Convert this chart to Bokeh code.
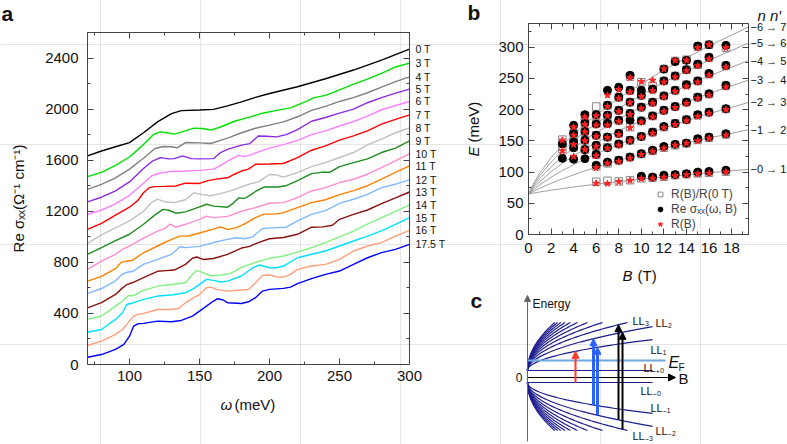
import math
import numpy as np
from bokeh.plotting import figure
from bokeh.models import (Range1d, FixedTicker, LinearAxis, Label, LabelSet,
                          ColumnDataSource, Legend, LegendItem, Arrow, NormalHead)
from bokeh.embed import file_html
from bokeh.resources import INLINE
from bokeh.core.properties import value

FONT = "Liberation Sans"
W, H = 787, 444

# ---------------- panel a data ----------------
labels_a = ["0 T", "3 T", "4 T", "5 T", "6 T", "7 T", "8 T", "9 T", "10 T", "11 T",
            "12 T", "13 T", "14 T", "15 T", "16 T", "17.5 T"]
colors_a = ["#000000", "#00e000", "#808080", "#8a2be2", "#ff80ff", "#ff0000", "#c0c0c0",
            "#1e8c1e", "#ff8cd0", "#ff8000", "#80b8ff", "#8b1010", "#80f080", "#00e0ff",
            "#ffa07a", "#0000ff"]

w_0T = [70, 80, 90, 100, 110, 120, 130, 137, 150, 160, 170, 180, 190, 200, 220, 240, 260, 280, 300]
s_0T = [1634, 1672, 1705, 1738, 1815, 1900, 1965, 1988, 1993, 1998, 2025, 2057, 2092, 2122, 2175, 2238, 2306, 2384, 2470]
w_3T = [70, 80, 90, 100, 110, 117, 122, 127, 132, 140, 146, 152, 158, 165, 175, 185, 195, 205, 215, 225, 232, 240, 250, 260, 270, 280, 290, 300]
s_3T = [1471, 1505, 1560, 1625, 1722, 1800, 1822, 1815, 1804, 1830, 1851, 1848, 1836, 1860, 1905, 1935, 1968, 1990, 2010, 2055, 2090, 2108, 2150, 2195, 2235, 2280, 2330, 2360]
w_4T = [70, 80, 90, 100, 110, 118, 124, 130, 134, 140, 150, 158, 165, 172, 180, 190, 200, 210, 220, 230, 240, 250, 260, 270, 280, 290, 300]
s_4T = [1372, 1410, 1462, 1530, 1615, 1690, 1707, 1705, 1697, 1738, 1736, 1731, 1755, 1780, 1815, 1850, 1875, 1900, 1940, 1990, 2022, 2060, 2090, 2128, 2172, 2215, 2253]
w_5T = [70, 80, 90, 100, 110, 116, 122, 128, 132, 138, 144, 150, 160, 165, 170, 180, 186, 192, 198, 205, 212, 220, 230, 240, 250, 260, 270, 280, 290, 300]
s_5T = [1273, 1310, 1360, 1430, 1535, 1590, 1620, 1610, 1612, 1634, 1612, 1610, 1612, 1660, 1685, 1718, 1730, 1790, 1788, 1783, 1800, 1840, 1905, 1934, 1968, 2000, 2050, 2090, 2125, 2157]
w_6T = [70, 80, 90, 100, 110, 116, 122, 130, 140, 150, 160, 165, 172, 178, 182, 186, 192, 200, 210, 220, 230, 240, 250, 260, 270, 280, 290, 300]
s_6T = [1175, 1210, 1258, 1325, 1420, 1478, 1500, 1512, 1515, 1520, 1530, 1560, 1605, 1638, 1628, 1640, 1665, 1695, 1722, 1755, 1800, 1830, 1868, 1903, 1945, 1995, 2028, 2060]
w_7T = [70, 80, 90, 100, 106, 110, 114, 118, 125, 133, 140, 150, 156, 162, 170, 175, 180, 185, 190, 200, 210, 220, 230, 240, 250, 260, 270, 280, 290, 300]
s_7T = [1059, 1105, 1170, 1232, 1285, 1345, 1385, 1393, 1395, 1398, 1420, 1418, 1440, 1452, 1462, 1490, 1515, 1530, 1568, 1570, 1574, 1620, 1678, 1712, 1757, 1790, 1830, 1882, 1920, 1955]
w_8T = [70, 80, 90, 100, 110, 116, 120, 125, 132, 140, 146, 152, 158, 165, 172, 180, 186, 192, 200, 205, 210, 220, 230, 240, 250, 260, 270, 280, 290, 300]
s_8T = [949, 1015, 1070, 1125, 1200, 1270, 1295, 1275, 1268, 1290, 1345, 1330, 1322, 1338, 1360, 1390, 1415, 1430, 1488, 1485, 1468, 1503, 1550, 1581, 1621, 1660, 1720, 1765, 1815, 1853]
w_9T = [70, 80, 90, 100, 110, 118, 124, 128, 133, 140, 150, 155, 160, 170, 174, 178, 182, 186, 190, 196, 206, 212, 220, 230, 237, 243, 250, 260, 270, 280, 290, 300]
s_9T = [862, 915, 970, 1020, 1098, 1170, 1215, 1208, 1185, 1195, 1235, 1255, 1240, 1232, 1262, 1305, 1300, 1325, 1355, 1390, 1390, 1400, 1440, 1495, 1505, 1505, 1550, 1581, 1610, 1660, 1695, 1751]
w_10T = [70, 80, 90, 95, 100, 110, 120, 125, 129, 133, 140, 150, 155, 160, 170, 180, 190, 200, 210, 220, 230, 240, 250, 260, 270, 280, 290, 300]
s_10T = [745, 810, 863, 902, 928, 990, 1045, 1062, 1100, 1075, 1098, 1137, 1162, 1150, 1160, 1200, 1229, 1263, 1268, 1307, 1359, 1385, 1425, 1451, 1490, 1542, 1595, 1652]
w_11T = [70, 80, 90, 94, 98, 102, 110, 120, 130, 136, 142, 150, 160, 165, 170, 176, 182, 190, 196, 204, 210, 220, 230, 240, 250, 260, 270, 280, 290, 300]
s_11T = [653, 690, 750, 800, 810, 815, 875, 928, 980, 1005, 1006, 1030, 1060, 1078, 1058, 1070, 1100, 1150, 1178, 1178, 1189, 1229, 1268, 1290, 1330, 1362, 1400, 1452, 1505, 1555]
w_12T = [70, 80, 90, 95, 98, 102, 110, 120, 130, 136, 140, 150, 160, 170, 176, 182, 188, 195, 205, 212, 220, 230, 240, 250, 260, 270, 280, 290, 300]
s_12T = [557, 595, 655, 708, 722, 728, 784, 823, 863, 922, 915, 925, 955, 980, 993, 985, 1000, 1065, 1072, 1075, 1124, 1176, 1205, 1262, 1294, 1333, 1385, 1412, 1446]
w_13T = [70, 80, 90, 95, 98, 102, 110, 120, 126, 132, 140, 145, 148, 153, 160, 170, 180, 186, 192, 200, 210, 220, 230, 238, 245, 250, 260, 270, 280, 290, 300]
s_13T = [444, 484, 549, 600, 625, 640, 680, 730, 735, 740, 784, 832, 842, 822, 830, 862, 912, 925, 955, 985, 995, 1020, 1075, 1078, 1090, 1137, 1176, 1210, 1260, 1305, 1351]
w_14T = [70, 80, 90, 95, 99, 103, 110, 120, 130, 140, 145, 148, 152, 158, 165, 172, 180, 190, 200, 210, 220, 230, 240, 250, 260, 270, 280, 290, 300]
s_14T = [353, 380, 457, 497, 538, 540, 580, 614, 627, 640, 706, 737, 722, 695, 700, 712, 760, 800, 831, 850, 880, 915, 955, 1000, 1045, 1100, 1150, 1200, 1250]
w_15T = [70, 80, 90, 95, 98, 103, 110, 120, 130, 140, 145, 150, 155, 160, 165, 170, 180, 188, 193, 200, 205, 210, 220, 230, 240, 250, 260, 270, 280, 290, 300]
s_15T = [253, 274, 353, 405, 470, 484, 510, 536, 544, 562, 588, 627, 667, 659, 646, 653, 693, 758, 779, 758, 758, 771, 836, 863, 889, 928, 967, 1006, 1046, 1098, 1150]
w_16T = [70, 80, 90, 95, 100, 103, 106, 110, 120, 130, 135, 140, 150, 155, 158, 162, 170, 180, 185, 190, 195, 200, 205, 210, 215, 220, 230, 240, 250, 260, 270, 280, 290, 300]
s_16T = [149, 183, 235, 274, 340, 379, 392, 400, 431, 431, 439, 484, 549, 601, 606, 588, 575, 583, 588, 640, 698, 701, 687, 685, 706, 745, 771, 784, 823, 889, 928, 954, 1006, 1051]
w_17T = [70, 80, 90, 96, 100, 103, 106, 110, 120, 130, 137, 145, 150, 155, 160, 163, 167, 170, 180, 185, 190, 195, 200, 210, 215, 220, 230, 240, 250, 260, 270, 280, 290, 300]
s_17T = [57, 78, 118, 157, 222, 301, 319, 322, 340, 335, 345, 379, 418, 457, 497, 515, 505, 484, 478, 491, 523, 575, 588, 596, 606, 633, 672, 706, 732, 784, 836, 876, 902, 941]

curves_a = [(w_0T, s_0T), (w_3T, s_3T), (w_4T, s_4T), (w_5T, s_5T), (w_6T, s_6T),
            (w_7T, s_7T), (w_8T, s_8T), (w_9T, s_9T), (w_10T, s_10T), (w_11T, s_11T),
            (w_12T, s_12T), (w_13T, s_13T), (w_14T, s_14T), (w_15T, s_15T),
            (w_16T, s_16T), (w_17T, s_17T)]

xticks_a = [100, 150, 200, 250, 300]
xminor_a = [75, 100, 125, 150, 175, 200, 225, 250, 275, 300]
yticks_a = [0, 400, 800, 1200, 1600, 2000, 2400]
yminor_a = [200, 400, 600, 800, 1000, 1200, 1400, 1600, 1800, 2000, 2200, 2400, 2600]

# ---------------- panel b data ----------------
line_B = [0, 0.5, 1, 2, 3, 5, 8, 12, 16, 19.5]
T01_E = [65, 66.6, 68.1, 70.9, 73.6, 78.4, 84.8, 92.3, 98.9, 104.2]
T12_E = [65, 69.7, 74.0, 81.9, 89.2, 102.0, 118.7, 137.8, 154.6, 167.8]
T23_E = [65, 72.6, 79.5, 91.6, 102.4, 121.0, 144.5, 170.8, 193.6, 211.5]
T34_E = [65, 75.4, 84.6, 100.4, 114.0, 137.3, 166.2, 198.2, 225.8, 247.4]
T45_E = [65, 78.2, 89.4, 108.4, 124.6, 151.8, 185.3, 222.2, 253.9, 278.6]
T56_E = [65, 80.8, 94.0, 115.9, 134.3, 165.1, 202.6, 243.9, 279.1, 306.6]
T67_E = [65, 83.4, 98.4, 123.0, 143.4, 177.3, 218.6, 263.7, 302.2, 332.3]
trans_lines = [T01_E, T12_E, T23_E, T34_E, T45_E, T56_E, T67_E]
trans_labels = ["\u22120 \u2192 1", "\u22121 \u2192 2", "\u22122 \u2192 3", "\u22123 \u2192 4",
                "\u22124 \u2192 5", "\u22125 \u2192 6", "\u22126 \u2192 7"]

fields_b = [3, 4, 5, 6, 7, 8, 9, 10, 11, 12, 13, 14, 15, 16, 17.5]
black_E = [
    [122, 145],
    [120.5, 139, 148.5, 162, 175],
    [121.5, 136, 151, 165, 179, 192],
    [111, 128.5, 143, 159, 177, 192],
    [116, 139, 156, 178, 191, 207, 231],
    [119, 145, 162, 183, 199, 220, 236],
    [124, 151, 183, 194, 212, 231, 255],
    [93.5, 129.5, 157, 182, 204, 223, 231],
    [92, 135, 164, 190, 212, 233],
    [95, 141, 173, 199, 222, 246, 265],
    [96, 144.5, 178, 205, 231, 254, 277],
    [97.5, 146.5, 184, 212, 240, 264, 279],
    [100, 153.5, 192, 220, 246, 273, 302],
    [101, 156, 196, 225.5, 258, 284, 304],
    [103, 161.5, 201.5, 239, 271, 303],
]
red_E = [
    [134, 151],
    [125, 144, 159, 172],
    [136, 150, 164, 176, 188],
    [82, 107, 126, 141, 157, 175, 190],
    [81.5, 114, 138, 155, 175, 190, 205, 223],
    [84.5, 117, 143, 160, 181, 197, 218, 232],
    [86.5, 122, 150, 171, 192, 211, 228, 251],
    [89.5, 128, 156, 180, 202, 221, 245],
    [90, 133, 162, 188, 210, 230, 247],
    [91.5, 138, 171, 197, 220, 244, 265],
    [94, 143, 176, 203, 229, 252, 279],
    [95.5, 146, 182, 210, 237, 262, 279],
    [97, 150, 189, 218, 244, 270, 299],
    [98, 154, 194, 223, 255, 281, 304],
    [100, 159, 200, 236, 268, 299],
]
open_E = [
    [137, 152],
    [140, 149, 162],
    [136, 151, 165, 179, 190],
    [84.5, 109, 128, 142, 159, 178, 192, 205],
    [86, 114, 140, 156, 178, 191, 207],
    [85, 119, 145, 162, 183, 199, 220],
    [87, 124, 151, 172, 194, 212, 231, 253],
    [90, 129, 157, 182, 204, 223, 244],
    [91, 134, 164, 190, 212, 233, 238],
    [92.5, 139, 172, 199, 222, 246, 265],
    [95, 143, 178, 205, 231, 254, 278],
    [96.5, 146, 184, 212, 240, 264, 280],
    [98, 152, 191, 220, 246, 272, 301],
    [99, 155, 196, 225, 257, 283, 304],
    [100.5, 160, 201, 238, 270, 299],
]
xticks_b = [0, 2, 4, 6, 8, 10, 12, 14, 16, 18]
xminor_b = list(range(0, 20))
yticks_b = [0, 50, 100, 150, 200, 250, 300]
yminor_b = [0, 25, 50, 75, 100, 125, 150, 175, 200, 225, 250, 275, 300, 325]

# ---------------- panel c data (schematic) ----------------
c_levels = [1, 2, 3, 4, 5, 6, 7, 8, 9, 10, 11]
c_Bmax = 125
c_scale = 2.77
c_gap_up = 7
c_gap_dn = 5
c_Emax_up = 55
c_Emax_dn = 53
c_EF = 17
c_EF_end = 138
c_Baxis_end = 148
tr_B = [48, 66, 70, 91, 95]
tr_from = [0, 1, 2, 2, 3]
tr_to = [1, 2, 1, 3, 2]
tr_color = ["#ff3b30", "#2a62ff", "#2a62ff", "#000000", "#000000"]
tr_width = [2, 3, 3, 2, 2]
ll_text = ["LL\u2083", "LL\u2082", "LL\u2081", "LL\u208a\u2080", "LL\u208b\u2080",
           "LL\u208b\u2081", "LL\u208b\u2082", "LL\u208b\u2083"]
ll_x = [105, 128, 123, 116, 113, 123, 128, 105]
ll_y = [57, 55, 28, 10, -13, -30, -53, -58]

# ---------------- layout boxes (page pixels) ----------------
def xr(d0, d1, p0, p1):
    s = (p1 - p0) / (d1 - d0)
    return Range1d(d0 - p0 / s, d1 + (W - p1) / s)

def yr(d0, d1, p_bottom, p_top):
    s = (p_bottom - p_top) / (d1 - d0)
    return Range1d(d0 - (H - p_bottom) / s, d1 + p_top / s)

p = figure(width=W, height=H, x_range=Range1d(0, W), y_range=Range1d(0, H),
           output_backend="svg", toolbar_location=None, min_border=0,
           x_axis_location=None, y_axis_location=None)
p.outline_line_color = None
p.title.visible = False
p.extra_x_ranges = {"ax": xr(70, 300, 87, 409), "bx": xr(0, 19.5, 528, 748),
                    "cx": xr(0, 148, 527, 675)}
p.extra_y_ranges = {"ay": yr(0, 2600, 364, 32), "by": yr(0, 338, 234, 23),
                    "cy": yr(0, 100, 377, 277)}

AX = "#444444"

def add_axis(side, xname, yname, loc, bounds, ticks, minor, labels=True,
             standoff=6, fs="15px"):
    a = LinearAxis(x_range_name=xname, y_range_name=yname, fixed_location=loc,
                   bounds=bounds, ticker=FixedTicker(ticks=ticks, minor_ticks=minor))
    a.major_tick_in = 6
    a.major_tick_out = 0
    a.minor_tick_in = 3
    a.minor_tick_out = 0
    a.axis_line_color = AX
    a.major_tick_line_color = AX
    a.minor_tick_line_color = AX
    a.major_label_text_font = FONT
    a.major_label_text_font_size = fs
    a.major_label_text_color = "#111111"
    a.major_label_standoff = standoff
    if not labels:
        a.major_label_overrides = {t: "" for t in ticks}
    p.add_layout(a, side)
    return a

def txt(x, y, t, size="15px", style="normal", align="left", base="middle", angle=0.0,
        xn="default", yn="default", color="#111111"):
    p.add_layout(Label(x=x, y=y, text=t, text_font=FONT, text_font_size=size,
                       text_font_style=style, text_align=align, text_baseline=base,
                       angle=angle, x_range_name=xn, y_range_name=yn, text_color=color))

# ================= panel a =================
add_axis("below", "ax", "ay", 0, (70, 300), xticks_a, xminor_a, standoff=6)
add_axis("above", "ax", "ay", 2600, (70, 300), xticks_a, xminor_a, labels=False)
add_axis("left", "ax", "ay", 70, (0, 2600), yticks_a, yminor_a, standoff=9)
add_axis("right", "ax", "ay", 300, (0, 2600), yticks_a, yminor_a, labels=False)

for (w, s), col in zip(curves_a, colors_a):
    p.line(w, s, line_color=col, line_width=1.4, x_range_name="ax", y_range_name="ay")

lab_src = ColumnDataSource(dict(x=[w[-1] for w, s in curves_a],
                                y=[s[-1] for w, s in curves_a], t=labels_a))
p.add_layout(LabelSet(x="x", y="y", text="t", source=lab_src, x_offset=6,
                      x_range_name="ax", y_range_name="ay",
                      text_baseline="middle", text_align="left",
                      text_font=value(FONT), text_font_size="10.5px", text_color="#111111"))

txt(220, H - 404, "\u03c9", style="italic")
txt(234, H - 404, "(meV)")
txt(18, H - 198, "Re \u03c3\u2093\u2093(\u03a9\u207b\u00b9 cm\u207b\u00b9)", align="center",
    angle=math.pi / 2)
txt(1, H - 13, "a", size="21px", style="bold")

# ================= panel b =================
add_axis("below", "bx", "by", 0, (0, 19.5), xticks_b, xminor_b, standoff=8)
add_axis("above", "bx", "by", 338, (0, 19.5), xticks_b, xminor_b, labels=False)
add_axis("left", "bx", "by", 0, (0, 338), yticks_b, yminor_b, standoff=5)
add_axis("right", "bx", "by", 19.5, (0, 338), yticks_b, yminor_b, labels=False)

for Ev in trans_lines:
    p.line(line_B, Ev, line_color="#a0a0a0", line_width=1, x_range_name="bx", y_range_name="by")

def flat(fields, lists):
    xs, ys = [], []
    for b, es in zip(fields, lists):
        for e in es:
            xs.append(b)
            ys.append(e)
    return xs, ys

ob, oe = flat(fields_b, open_E)
bb, be = flat(fields_b, black_E)
rbx, rbe = flat(fields_b, red_E)
r_open = p.scatter(ob, oe, marker="square", size=7.5, line_color="#8a8a8a", fill_color=None,
                   line_width=1, x_range_name="bx", y_range_name="by")
r_black = p.scatter(bb, be, marker="circle", size=8, line_color="black", fill_color="black",
                    x_range_name="bx", y_range_name="by")
r_red = p.scatter(rbx, rbe, marker="star", size=7, line_color="#ff2020", fill_color="#ff2020",
                  x_range_name="bx", y_range_name="by")

tl_src = ColumnDataSource(dict(x=[line_B[-1]] * len(trans_lines),
                               y=[Ev[-1] for Ev in trans_lines], t=trans_labels))
p.add_layout(LabelSet(x="x", y="y", text="t", source=tl_src, x_offset=2,
                      x_range_name="bx", y_range_name="by",
                      text_baseline="middle", text_align="left",
                      text_font=value(FONT), text_font_size="11px", text_color="#111111"))

txt(757, H - 15, "n  n\u2032", style="italic")
txt(467, H - 12, "b", size="21px", style="bold")
txt(473, H - 156, "E", style="italic", angle=math.pi / 2)
txt(473, H - 142, "(meV)", angle=math.pi / 2)
txt(622, H - 275, "B", style="italic")
txt(637, H - 275, "(T)")

leg = Legend(items=[LegendItem(label="R(B)/R(0 T)", renderers=[r_open]),
                    LegendItem(label="Re \u03c3\u2093\u2093(\u03c9, B)", renderers=[r_black]),
                    LegendItem(label="R(B)", renderers=[r_red])],
             location=(654, 213), background_fill_alpha=0, border_line_color=None,
             label_text_font=FONT, label_text_font_size="12px", glyph_width=12,
             glyph_height=14, label_height=14, spacing=1, padding=2, margin=0,
             label_standoff=5)
p.add_layout(leg)

# ================= panel c =================
def lev(n, B, upper):
    B = np.asarray(B, dtype=float)
    if upper:
        return c_gap_up + c_scale * np.sqrt(n * B)
    return -(c_gap_dn + c_scale * np.sqrt(n * B))

navy = "#1c1c8f"
t = np.linspace(0, 1, 60)
for n in c_levels:
    bu = min(c_Bmax, ((c_Emax_up - c_gap_up) / c_scale) ** 2 / n)
    Bu = bu * t ** 2
    p.line(Bu, lev(n, Bu, True), line_color=navy, line_width=1.2,
           x_range_name="cx", y_range_name="cy")
    bd = min(c_Bmax, ((c_Emax_dn - c_gap_dn) / c_scale) ** 2 / n)
    Bd = bd * t ** 2
    p.line(Bd, lev(n, Bd, False), line_color=navy, line_width=1.2,
           x_range_name="cx", y_range_name="cy")
p.line([0, c_Bmax], [c_gap_up, c_gap_up], line_color=navy, line_width=1.2,
       x_range_name="cx", y_range_name="cy")
p.line([0, c_Bmax], [-c_gap_dn, -c_gap_dn], line_color=navy, line_width=1.2,
       x_range_name="cx", y_range_name="cy")
p.line([0, c_EF_end], [c_EF, c_EF], line_color="#6fa8dc", line_width=2,
       x_range_name="cx", y_range_name="cy")

p.add_layout(Arrow(end=NormalHead(size=7, fill_color="black", line_color="black"),
                   x_start=0, y_start=0, x_end=c_Baxis_end, y_end=0,
                   line_color="black", line_width=1, x_range_name="cx", y_range_name="cy"))
p.add_layout(Arrow(end=NormalHead(size=6, fill_color="#666666", line_color="#666666"),
                   x_start=0, y_start=-64, x_end=0, y_end=82,
                   line_color="#666666", line_width=1, x_range_name="cx", y_range_name="cy"))

for b, nf, nt, col, lw in zip(tr_B, tr_from, tr_to, tr_color, tr_width):
    y0 = float(lev(nf, b, False)) if nf > 0 else -c_gap_dn
    y1 = float(lev(nt, b, True))
    p.add_layout(Arrow(end=NormalHead(size=7, fill_color=col, line_color=col),
                       x_start=b, y_start=y0, x_end=b, y_end=y1,
                       line_color=col, line_width=lw, x_range_name="cx", y_range_name="cy"))

ll_src = ColumnDataSource(dict(x=ll_x, y=ll_y, t=ll_text))
p.add_layout(LabelSet(x="x", y="y", text="t", source=ll_src, text_baseline="middle",
                      x_range_name="cx", y_range_name="cy",
                      text_align="left", text_font=value(FONT), text_font_size="11px",
                      text_color="#111111"))
txt(141, 15, "E", size="16px", style="italic", xn="cx", yn="cy")
txt(151, 10, "F", size="10px", xn="cx", yn="cy")
txt(151, -1, "B", xn="cx", yn="cy")
txt(-5, 0, "0", size="12px", align="right", xn="cx", yn="cy")
txt(5, 74, "Energy", size="12px", xn="cx", yn="cy")
txt(470, H - 300, "c", size="21px", style="bold")

open("out.html", "w").write(file_html(p, INLINE))
